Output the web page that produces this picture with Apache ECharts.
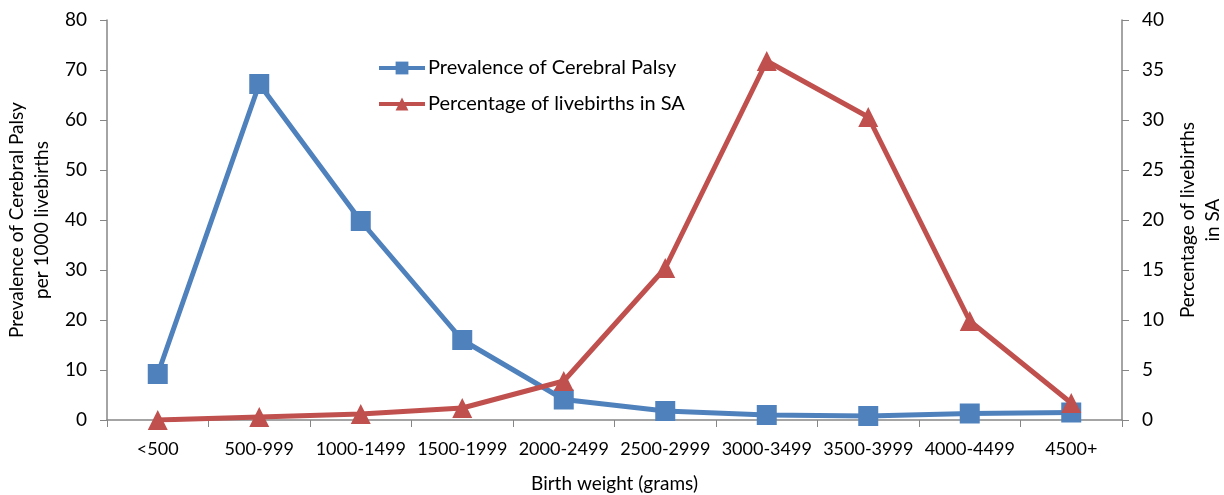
<!DOCTYPE html>
<html>
<head>
<meta charset="utf-8">
<script src="https://cdn.jsdelivr.net/npm/echarts@6/dist/echarts.min.js"></script>
<style>
  html, body { margin: 0; padding: 0; background: #fff; }
  #main { width: 1224px; height: 495px; }
</style>
</head>
<body>
<div id="main"></div>
<script>
// birth weight groups
var categories = ['<500', '500-999', '1000-1499', '1500-1999', '2000-2499',
  '2500-2999', '3000-3499', '3500-3999', '4000-4499', '4500+'];
// prevalence per 1000 livebirths (left axis)
var prevalence = [9.2, 67.2, 39.8, 16.0, 4.1, 1.8, 1.0, 0.8, 1.3, 1.5];
// percentage of livebirths (right axis)
var livebirthPct = [0.0, 0.3, 0.6, 1.2, 3.9, 15.2, 35.9, 30.3, 9.9, 1.7];

var blue = '#4F81BD';
var red = '#C0504D';
var axisGray = '#868686';
var font = 'Lato, "Open Sans", sans-serif';

var chart = echarts.init(document.getElementById('main'));

var option = {
  animation: false,
  textStyle: { fontFamily: font },
  grid: { left: 107, right: 102, top: 20, bottom: 75, outerBoundsMode: 'none', containLabel: false },
  legend: {
    orient: 'vertical',
    left: 372,
    top: 53,
    itemWidth: 46,
    itemHeight: 16,
    itemGap: 16,
    lineStyle: { width: 4 },
    textStyle: { fontSize: 20, color: '#000', fontFamily: font, padding: [0, 0, 0, -2] },
    data: ['Prevalence of Cerebral Palsy', 'Percentage of livebirths in SA']
  },
  xAxis: {
    type: 'category',
    data: categories,
    boundaryGap: true,
    name: 'Birth weight (grams)',
    nameLocation: 'middle',
    nameGap: 54,
    nameTextStyle: { fontSize: 19, color: '#000' },
    axisLine: { lineStyle: { color: axisGray, width: 1.5 } },
    axisTick: { show: true, length: 7, lineStyle: { color: axisGray } },
    axisLabel: { fontSize: 18, color: '#000', margin: 20, interval: 0 }
  },
  yAxis: [
    {
      type: 'value',
      min: 0, max: 80, interval: 10,
      name: 'Prevalence of Cerebral Palsy\nper 1000 livebirths',
      nameLocation: 'middle',
      nameGap: 50,
      nameRotate: 90,
      nameTextStyle: { fontSize: 19, color: '#000', lineHeight: 25 },
      axisLine: { show: true, lineStyle: { color: axisGray, width: 1.5 } },
      axisTick: { show: true, length: 7, lineStyle: { color: axisGray } },
      axisLabel: { fontSize: 19, color: '#000', margin: 20 },
      splitLine: { show: false }
    },
    {
      type: 'value',
      position: 'right',
      min: 0, max: 40, interval: 5,
      name: 'Percentage of livebirths\nin SA',
      nameLocation: 'middle',
      nameGap: 52,
      nameRotate: 90,
      nameTextStyle: { fontSize: 19, color: '#000', lineHeight: 25 },
      axisLine: { show: true, lineStyle: { color: axisGray, width: 1.5 } },
      axisTick: { show: true, length: 7, lineStyle: { color: axisGray } },
      axisLabel: { fontSize: 19, color: '#000', margin: 20 },
      splitLine: { show: false }
    }
  ],
  series: [
    {
      name: 'Prevalence of Cerebral Palsy',
      type: 'line',
      yAxisIndex: 0,
      data: prevalence,
      symbol: 'rect',
      symbolSize: 20,
      lineStyle: { color: blue, width: 5 },
      itemStyle: { color: blue }
    },
    {
      name: 'Percentage of livebirths in SA',
      type: 'line',
      yAxisIndex: 1,
      data: livebirthPct,
      symbol: 'triangle',
      symbolSize: 20,
      lineStyle: { color: red, width: 5 },
      itemStyle: { color: red }
    }
  ]
};

chart.setOption(option);
</script>
</body>
</html>
